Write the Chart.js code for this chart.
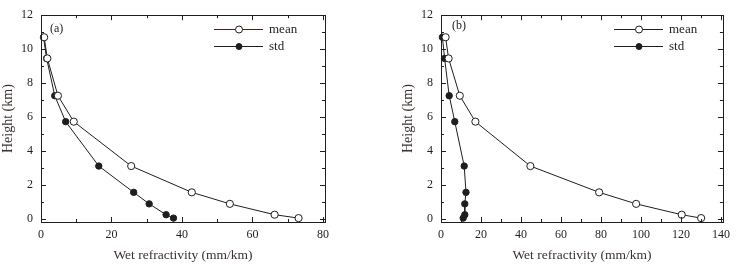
<!DOCTYPE html>
<html>
<head>
<meta charset="utf-8">
<script src="https://cdn.jsdelivr.net/npm/chart.js@4/dist/chart.umd.min.js"></script>
<style>
  body { margin: 0; background: #fff; }
  .panel { position: absolute; top: 0; height: 265px; }
</style>
</head>
<body>
<div class="panel" style="left:0;width:340px"><canvas id="chartA" width="340" height="265"></canvas></div>
<div class="panel" style="left:400px;width:336px"><canvas id="chartB" width="336" height="265"></canvas></div>
<script>
// heights of the levels (km)
const heights = [10.7, 9.45, 7.25, 5.72, 3.1, 1.55, 0.87, 0.23, 0.03];

// panel (a)
const meanA = [0.9, 1.8, 4.8, 9.3, 25.6, 42.8, 53.6, 66.3, 73.1];
const stdA = [0.7, 1.6, 3.9, 7.0, 16.4, 26.3, 30.7, 35.5, 37.6];
const xTicksA = [0, 20, 40, 60, 80];
const xMinorA = [10, 30, 50, 70];

// panel (b)
const meanB = [2.3, 3.8, 9.4, 17.2, 44.7, 79.1, 97.6, 120.4, 130.1];
const stdB = [0.7, 1.8, 4.1, 6.9, 11.6, 12.5, 11.9, 11.9, 11.1];
const xTicksB = [0, 20, 40, 60, 80, 100, 120, 140];
const xMinorB = [10, 30, 50, 70, 90, 110, 130];

const yTicks = [0, 2, 4, 6, 8, 10, 12];
const yMinor = [1, 3, 5, 7, 9, 11];

const seriesNames = ["mean", "std"];
const FONT = "'Liberation Serif', 'Times New Roman', serif";
const INK = "#1e1e1e";

function toPoints(xs) {
    return xs.map((v, i) => ({ x: v, y: heights[i] }));
}

// frame, inward ticks, legend and panel tag
const framePlugin = {
    id: "frame",
    afterDraw(chart, args, opts) {
        const ctx = chart.ctx;
        const a = chart.chartArea;
        const xs = chart.scales.x;
        const ys = chart.scales.y;
        ctx.save();
        ctx.strokeStyle = INK;
        ctx.lineWidth = 1;
        ctx.strokeRect(Math.round(a.left) + 0.5, Math.round(a.top) + 0.5,
            Math.round(a.right - a.left), Math.round(a.bottom - a.top));

        ctx.beginPath();
        const tickX = (v, len) => {
            const p = Math.round(xs.getPixelForValue(v)) + 0.5;
            ctx.moveTo(p, a.bottom); ctx.lineTo(p, a.bottom - len);
            ctx.moveTo(p, a.top); ctx.lineTo(p, a.top + len);
        };
        const tickY = (v, len) => {
            const p = Math.round(ys.getPixelForValue(v)) + 0.5;
            ctx.moveTo(a.left, p); ctx.lineTo(a.left + len, p);
            ctx.moveTo(a.right, p); ctx.lineTo(a.right - len, p);
        };
        opts.xMajor.forEach(v => tickX(v, 5));
        opts.xMinor.forEach(v => tickX(v, 3));
        yTicks.forEach(v => tickY(v, 5));
        yMinor.forEach(v => tickY(v, 3));
        ctx.stroke();

        // legend
        const lx = a.left + 173;
        const rows = [29.5, 46.5];
        ctx.font = "13px " + FONT;
        ctx.textBaseline = "middle";
        rows.forEach((ry, i) => {
            ctx.strokeStyle = (i === 0 && opts.tag === "(a)") ? "#4a1f1f" : INK;
            ctx.beginPath();
            ctx.moveTo(lx, ry); ctx.lineTo(lx + 49, ry);
            ctx.stroke();
            ctx.beginPath();
            ctx.arc(lx + 25, ry, i === 0 ? 3.5 : 3, 0, Math.PI * 2);
            ctx.fillStyle = i === 0 ? "#fff" : INK;
            ctx.fill();
            ctx.strokeStyle = INK;
            ctx.stroke();
            ctx.fillStyle = INK;
            ctx.fillText(seriesNames[i], lx + 55, ry);
        });

        ctx.font = "12px " + FONT;
        ctx.fillText(opts.tag, a.left + opts.tagDx, opts.tagY);
        ctx.restore();
    }
};

function makeChart(id, mean, std, xMax, xMajor, xMinor, tag, tagDx, tagY, padRight) {
    new Chart(document.getElementById(id), {
        type: "scatter",
        data: {
            datasets: [
                {
                    label: seriesNames[0],
                    data: toPoints(mean),
                    showLine: true,
                    borderColor: INK,
                    borderWidth: 1,
                    pointRadius: 3.6,
                    pointBackgroundColor: "#fff",
                    pointBorderColor: INK,
                    pointBorderWidth: 1,
                    tension: 0,
                    clip: false
                },
                {
                    label: seriesNames[1],
                    data: toPoints(std),
                    showLine: true,
                    borderColor: INK,
                    borderWidth: 1,
                    pointRadius: 3.2,
                    pointBackgroundColor: INK,
                    pointBorderColor: INK,
                    pointBorderWidth: 1,
                    tension: 0,
                    clip: false
                }
            ]
        },
        options: {
            responsive: false,
            animation: false,
            layout: { padding: { top: 11, right: padRight, left: 0, bottom: 0 } },
            plugins: {
                legend: { display: false },
                tooltip: { enabled: false },
                frame: { xMajor: xMajor, xMinor: xMinor, tag: tag, tagDx: tagDx, tagY: tagY }
            },
            scales: {
                x: {
                    type: "linear",
                    min: 0,
                    max: xMax,
                    afterBuildTicks: s => { s.ticks = xMajor.map(v => ({ value: v })); },
                    afterFit: s => { s.height = 43; },
                    grid: { display: false, drawTicks: false },
                    border: { display: false },
                    ticks: { color: INK, font: { family: FONT, size: 12 }, padding: 6, maxRotation: 0 },
                    title: {
                        display: true,
                        text: "Wet refractivity (mm/km)",
                        color: "#3d3030",
                        font: { family: FONT, size: 13.5 },
                        padding: { top: 2, bottom: 1 }
                    }
                },
                y: {
                    type: "linear",
                    min: -0.2,
                    max: 12,
                    afterBuildTicks: s => { s.ticks = yTicks.map(v => ({ value: v })); },
                    afterFit: s => { s.width = 41; },
                    grid: { display: false, drawTicks: false },
                    border: { display: false },
                    ticks: { color: INK, font: { family: FONT, size: 12 }, padding: 8 },
                    title: {
                        display: true,
                        text: "Height (km)",
                        color: "#3d3030",
                        font: { family: FONT, size: 14 },
                        padding: { top: 0, bottom: 2 }
                    }
                }
            }
        },
        plugins: [framePlugin]
    });
}

makeChart("chartA", meanA, stdA, 80.6, xTicksA, xMinorA, "(a)", 9, 29, 15);
makeChart("chartB", meanB, stdB, 141, xTicksB, xMinorB, "(b)", 11, 26, 12);
</script>
</body>
</html>
